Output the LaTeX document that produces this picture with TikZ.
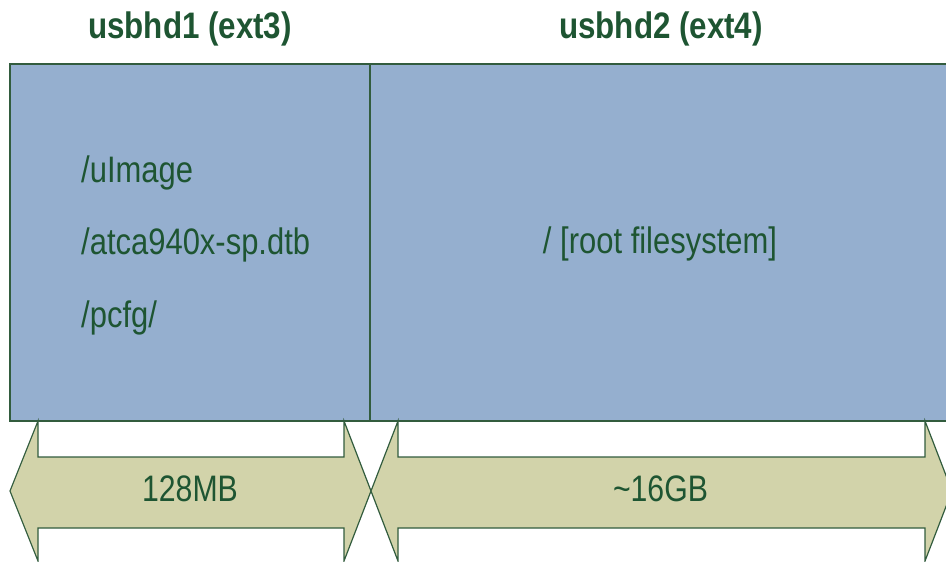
\documentclass[tikz,border=0pt]{standalone}
\usepackage{fontspec}
\usepackage{graphicx}
\setmainfont{Liberation Sans}
\definecolor{boxfill}{RGB}{149,175,207}
\definecolor{edge}{RGB}{50,92,62}
\definecolor{txt}{RGB}{30,85,50}
\definecolor{arrfill}{RGB}{210,211,170}
\newcommand\nw[1]{\scalebox{0.84}[1]{#1}}
\newcommand\nwh[1]{\scalebox{0.85}[1]{#1}}
\tikzset{
  lbl/.style={inner sep=0pt, text=txt, font=\fontsize{37}{44}\selectfont},
  hdr/.style={lbl, font=\fontsize{37}{44}\selectfont\bfseries},
  part/.style={draw=edge, line width=1.6bp, fill=boxfill},
  sizearrow/.style={draw=edge, line width=1.2bp, fill=arrfill, line join=miter},
}
\begin{document}
\begin{tikzpicture}[x=1bp,y=-1bp]
\useasboundingbox (0,0) rectangle (946,562);
\clip (0,0) rectangle (946,562);
% partitions
\path[part] (10,64) rectangle (370,421);
\path[part] (370,64) rectangle (970,421);
% size arrows
\path[sizearrow] (10,491) -- (38,421) -- (38,457) -- (344,457) -- (344,421)
  -- (371,491) -- (344,561) -- (344,528) -- (38,528) -- (38,561) -- cycle;
\path[sizearrow] (371,491) -- (398,421) -- (398,457) -- (925,457) -- (925,421)
  -- (952,491) -- (925,561) -- (925,528) -- (398,528) -- (398,561) -- cycle;
% headings
\node[hdr, anchor=base] (h1) at (190,38.5) {\nwh{usbhd1 (ext3)}};
\node[hdr, anchor=base] (h2) at (661,38.5) {\nwh{usbhd2 (ext4)}};
% contents
\node[lbl, anchor=base west] (f1) at (81,182.7) {\nw{/uImage}};
\node[lbl, anchor=base west] (f2) at (81,255) {\nw{/atca940x-sp.dtb}};
\node[lbl, anchor=base west] (f3) at (81,327.3) {\nw{/pcfg/}};
\node[lbl, anchor=base] (root) at (660,254) {\nw{/ [root filesystem]}};
% sizes
\node[lbl, anchor=base] (s1) at (190,501.7) {\scalebox{0.82}[1]{128MB}};
\node[lbl, anchor=base] (s2) at (660.5,501.7) {\scalebox{0.82}[1]{\textasciitilde 16GB}};
\end{tikzpicture}
\end{document}
